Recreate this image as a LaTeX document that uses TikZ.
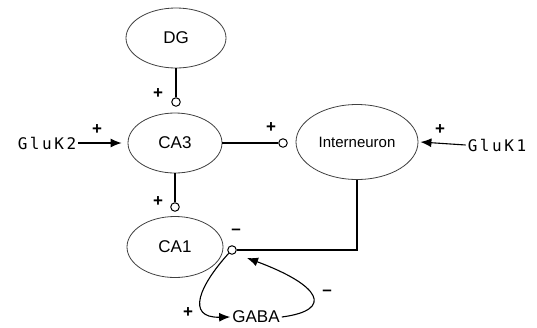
\documentclass[tikz,border=0pt]{standalone}
\usepackage{fontspec}
\setmainfont{Liberation Sans}
\newfontfamily\monofnt[LetterSpace=16]{DejaVu Sans Mono}
\usetikzlibrary{shapes.geometric,arrows.meta}
\begin{document}
\begin{tikzpicture}[x=1pt,y=-1pt,
  cell/.style={ellipse,draw=black!75,line width=0.8pt,inner sep=0pt,font=\fontsize{17}{17}\selectfont},
  term/.style={circle,draw,fill=white,line width=1pt,inner sep=0pt,minimum size=8.5pt},
  sig/.style={font=\bfseries\fontsize{17}{17}\selectfont,inner sep=0pt},
  lab/.style={font=\monofnt\fontsize{16}{16}\selectfont,inner sep=2pt},
  conn/.style={line width=1.1pt},
  arr/.style={line width=1.1pt,-{Latex[length=11pt,width=9pt]}}]
\useasboundingbox (0,0) rectangle (537,327);
\node[cell,minimum width=100pt,minimum height=60pt] (DG) at (176,38) {DG};
\node[cell,minimum width=94pt,minimum height=60pt] (CA3) at (175,143) {CA3};
\node[cell,minimum width=96pt,minimum height=61pt] (CA1) at (175,247) {CA1};
\node[cell,minimum width=122pt,minimum height=75pt] (Int) at (357,142) {\fontsize{15}{15}\selectfont Interneuron};
\node[lab] (g2) at (47,143) {GluK2};
\node[lab] (g1) at (497,145) {GluK1};
\node[font=\fontsize{17}{17}\selectfont,inner sep=2pt] (gaba) at (256,317) {GABA};
\node[term] (t1) at (176,102) {};
\node[term] (t2) at (175,207) {};
\node[term] (t3) at (283,143) {};
\node[term] (t4) at (232,250) {};
\coordinate (fb) at (247,258);
\draw[conn] (DG.south) -- (t1.north);
\draw[conn] (CA3.south) -- (t2.north);
\draw[conn] (CA3.east) -- (t3.west);
\draw[conn] (Int.south) |- (t4.east);
\draw[arr] (g2.east) -- ([xshift=-6pt]CA3.west);
\draw[arr] (g1.west) -- ([xshift=2pt]Int.east);
\draw[arr] (t4.south west) .. controls (200,285) and (185,318) .. (gaba.west);
\draw[arr] (gaba.east) .. controls (335,310) and (320,285) .. (fb);
\node[sig] (p1) at (158,94) {+};
\node[sig] (p2) at (97,130) {+};
\node[sig] (p3) at (271,128) {+};
\node[sig] (p4) at (440,130) {+};
\node[sig] (p5) at (158,202) {+};
\node[sig] (p6) at (188,313) {+};
\node[sig] (m1) at (236,232) {--};
\node[sig] (m2) at (327,293) {--};
\end{tikzpicture}
\end{document}
